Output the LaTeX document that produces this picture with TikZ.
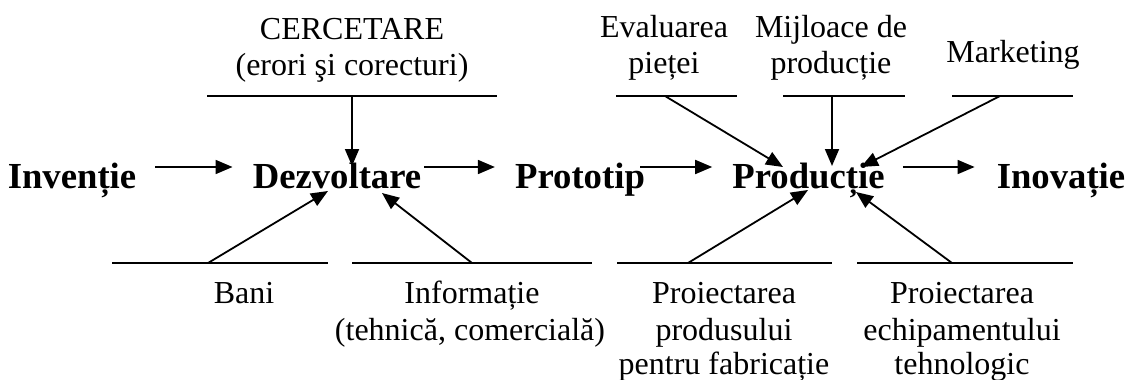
\documentclass[tikz,border=0pt]{standalone}
\usepackage{fontspec}
\setmainfont{Liberation Serif}
\usetikzlibrary{arrows.meta}
\begin{document}
\begin{tikzpicture}[x=1pt,y=-1pt,
  arr/.style={line width=1.8pt,-{Triangle[length=17pt,width=14pt]}},
  bar/.style={line width=1.8pt},
  big/.style={inner sep=0pt,anchor=base,font=\fontsize{36.7}{40}\selectfont\bfseries},
  lbl/.style={inner sep=0pt,anchor=base,font=\fontsize{32}{36}\selectfont}]
\useasboundingbox (0,0) rectangle (1128,380);

% main row
\node[big] (inv)  at (72,188)    {Invenție};
\node[big] (dez)  at (337,188)   {Dezvoltare};
\node[big] (pro)  at (580,188)   {Prototip};
\node[big] (prod) at (808.5,188) {Producție};
\node[big] (ino)  at (1061,188)  {Inovație};

\draw[arr] ([shift={(19pt,21pt)}]inv.base east)  -- ([shift={(-20pt,21pt)}]dez.base west);
\draw[arr] ([shift={(3pt,21pt)}]dez.base east)   -- ([shift={(-20pt,21pt)}]pro.base west);
\draw[arr] ([shift={(-5pt,21pt)}]pro.base east)  -- ([shift={(-20pt,21pt)}]prod.base west);
\draw[arr] ([shift={(18pt,21pt)}]prod.base east) -- ([shift={(-22pt,21pt)}]ino.base west);

% top labels
\node[lbl] (cer1) at (352,39) {CERCETARE};
\node[lbl] (cer2) at (352,75) {(erori şi corecturi)};
\node[lbl] (ev1)  at (664,37) {Evaluarea};
\node[lbl] (ev2)  at (664,73) {pieței};
\node[lbl] (mj1)  at (831,37) {Mijloace de};
\node[lbl] (mj2)  at (831,73) {producție};
\node[lbl] (mk)   at (1013,62) {Marketing};

% bottom labels
\node[lbl] (ban)  at (244,303) {Bani};
\node[lbl] (inf1) at (472,303) {Informație};
\node[lbl] (inf2) at (470,340) {(tehnică, comercială)};
\node[lbl] (pp1)  at (724,303) {Proiectarea};
\node[lbl] (pp2)  at (724,340) {produsului};
\node[lbl] (pp3)  at (724,374) {pentru fabricație};
\node[lbl] (pe1)  at (962,303) {Proiectarea};
\node[lbl] (pe2)  at (962,340) {echipamentului};
\node[lbl] (pe3)  at (962,374) {tehnologic};

% bars
\draw[bar] (207,96) -- (497,96);
\draw[bar] (616,96) -- (737,96);
\draw[bar] (783,96) -- (905,96);
\draw[bar] (952,96) -- (1073,96);
\draw[bar] (112,263) -- (328,263);
\draw[bar] (352,263) -- (592,263);
\draw[bar] (617,263) -- (832,263);
\draw[bar] (857,263) -- (1073,263);

% fishbone arrows
\coordinate (cerS) at (352,96);  \coordinate (cerT) at (352,166);
\coordinate (evS)  at (665,96);  \coordinate (evT)  at (783,167);
\coordinate (mjS)  at (832,96);  \coordinate (mjT)  at (832,166);
\coordinate (mkS)  at (1000,96); \coordinate (mkT)  at (861,167);
\coordinate (banS) at (208,263); \coordinate (banT) at (328,191);
\coordinate (infS) at (472,263); \coordinate (infT) at (382,193);
\coordinate (ppS)  at (688,263); \coordinate (ppT)  at (808,190);
\coordinate (peS)  at (952,263); \coordinate (peT)  at (856,192);

\draw[arr] (cerS) -- (cerT);
\draw[arr] (evS) -- (evT);
\draw[arr] (mjS) -- (mjT);
\draw[arr] (mkS) -- (mkT);
\draw[arr] (banS) -- (banT);
\draw[arr] (infS) -- (infT);
\draw[arr] (ppS) -- (ppT);
\draw[arr] (peS) -- (peT);
\end{tikzpicture}
\end{document}
